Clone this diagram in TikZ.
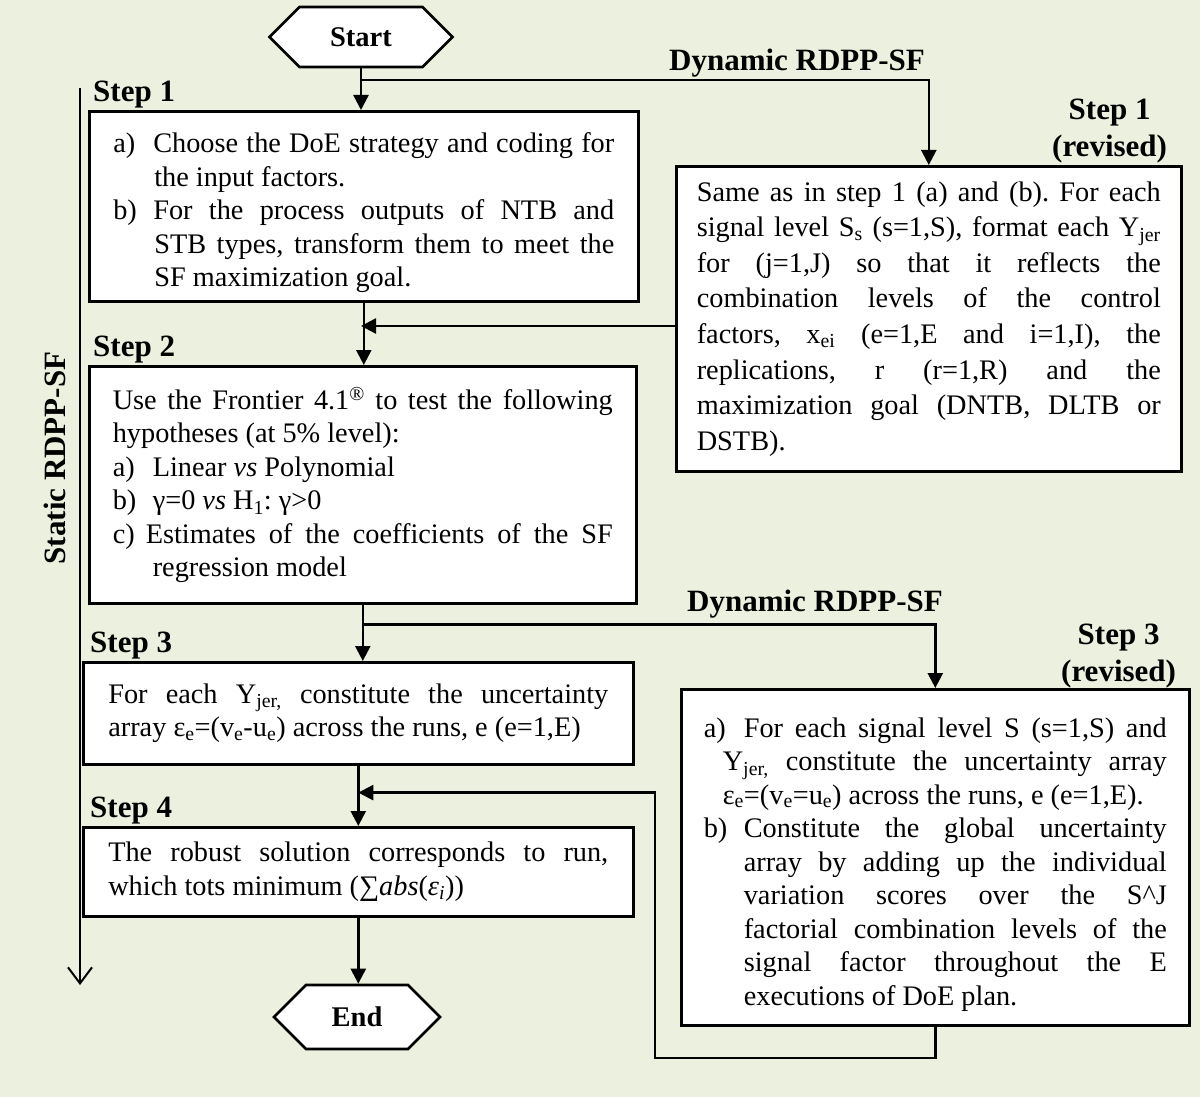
\documentclass[tikz,border=0pt]{standalone}
\usepackage{fontspec}
\setmainfont{Liberation Serif}
\usetikzlibrary{arrows.meta, shapes.symbols, positioning, calc}

\definecolor{bgolive}{RGB}{235,241,222}
\hyphenpenalty=10000
\exhyphenpenalty=10000
\frenchspacing

% list item: [label width]{hang}{label}{text}
\newcommand{\litem}[4][40pt]{\par\hangindent=#2\hangafter=1\noindent\makebox[#1][l]{#3}#4\par}
\newcommand{\bodyfont}{\fontsize{28.3}{33.5}\selectfont}
\newcommand{\lblfont}{\fontsize{31}{37}\selectfont\bfseries}
\newcommand{\termfont}{\fontsize{28.5}{33}\selectfont\bfseries}

\tikzset{
  flowbox/.style={draw, fill=white, line width=2.6pt, rectangle, anchor=north west,
    align=justify, inner sep=0pt, font=\bodyfont},
  terminal/.style={draw, fill=white, line width=2.6pt, shape=signal,
    signal to=east and west, inner sep=0pt, font=\termfont},
  steplbl/.style={font=\lblfont, inner sep=2pt},
  flow/.style={line width=2.4pt, -{Triangle[length=15pt,width=15pt]}},
}

\begin{document}
\begin{tikzpicture}[x=1pt, y=-1pt]
	% --- background and page size ---
	\fill[bgolive] (0,0) rectangle (1200,1097);
	\useasboundingbox (0,0) rectangle (1200,1097);
	
	% --- terminals ---
	\node[terminal, minimum width=183pt, minimum height=60pt] (start) at (361,37) {Start};
	\node[terminal, minimum width=166pt, minimum height=64pt] (end) at (357,1017) {End};
	
	% --- static steps (left column) ---
	\node[flowbox, minimum width=549pt, minimum height=190pt, text width=501pt] (s1) at (88,110) {%
		\litem{41pt}{a)}{Choose the DoE strategy and coding for the input factors.}
		\litem{41pt}{b)}{For the process outputs of NTB and\linebreak STB types, transform them to meet the\linebreak SF maximization goal.}};
	\node[flowbox, minimum width=547pt, minimum height=237pt, text width=500pt] (s2) at (88,365) {%
		Use the Frontier 4.1\textsuperscript{\textregistered} to test the following hypotheses (at 5\% level):
		\litem{40pt}{a)}{Linear \textit{vs} Polynomial}
		\litem{40pt}{b)}{γ=0 \textit{vs} H\textsubscript{1}: γ>0}
		\litem[33pt]{40pt}{c)}{Estimates of the coefficients of the SF\linebreak regression model}};
	\node[flowbox, minimum width=550pt, minimum height=102pt, text width=500pt] (s3) at (82,661) {%
		For each Y\textsubscript{jer,} constitute the uncertainty\linebreak array ε\textsubscript{e}=(v\textsubscript{e}-u\textsubscript{e}) across the runs, e (e=1,E)};
	\node[flowbox, minimum width=550pt, minimum height=89pt, text width=500pt] (s4) at (82,826) {%
		The robust solution corresponds to run, which tots minimum (∑\textit{abs}(\textit{ε}\textsubscript{\textit{i}}))};
	
	% --- revised steps (right column) ---
	\node[flowbox, font=\fontsize{28.3}{35.6}\selectfont, minimum width=505pt, minimum height=305pt, text width=464pt] (r1) at (675,165) {%
		Same as in step 1 (a) and (b). For each\linebreak signal level S\textsubscript{s} (s=1,S), format each Y\textsubscript{jer}\linebreak for (j=1,J) so that it reflects the\linebreak combination levels of the control\linebreak factors, x\textsubscript{ei} (e=1,E and i=1,I), the\linebreak replications, r (r=1,R) and the\linebreak maximization goal (DNTB, DLTB or\linebreak DSTB).};
	\node[flowbox, minimum width=508pt, minimum height=336pt, text width=463pt] (r3) at (680,688) {%
		\litem{19pt}{a)}{For each signal level S (s=1,S) and\linebreak Y\textsubscript{jer,} constitute the uncertainty array\linebreak ε\textsubscript{e}=(v\textsubscript{e}=u\textsubscript{e}) across the runs, e (e=1,E).}
		\litem{40pt}{b)}{Constitute the global uncertainty\linebreak array by adding up the individual\linebreak variation scores over the S\textasciicircum J\linebreak factorial combination levels of the\linebreak signal factor throughout the E\linebreak executions of DoE plan.}};
	
	% --- step labels ---
	\node[steplbl, anchor=south west] (l1) at ([xshift=3pt]s1.north west) {Step 1};
	\node[steplbl, anchor=south west] (l2) at ([xshift=3pt]s2.north west) {Step 2};
	\node[steplbl, anchor=south west] (l3) at ([xshift=6pt]s3.north west) {Step 3};
	\node[steplbl, anchor=south west] (l4) at ([xshift=6pt]s4.north west) {Step 4};
	\node[steplbl, align=center, anchor=south] (l1r) at ([xshift=-73pt]r1.north east) {Step 1\\(revised)};
	\node[steplbl, align=center, anchor=south] (l3r) at ([xshift=-72pt,yshift=-2pt]r3.north east) {Step 3\\(revised)};
	
	% --- main flow ---
	\draw[flow] (start.south) -- (start.south |- s1.north);
	\draw[flow] (s1.south) -- (s1.south |- s2.north);
	\draw[flow] (s2.south) -- (s2.south |- s3.north);
	\draw[flow] (s3.south) -- (s3.south |- s4.north);
	\draw[flow] (s4.south) -- (s4.south |- end.north);
	
	% --- dynamic branches ---
	\coordinate (b1) at ($(start.south)+(0,12)$);
	\draw[flow] (b1) -| (r1.north);
	\node[steplbl, anchor=south] (dyn1) at (797,79) {Dynamic RDPP-SF};
	\coordinate (j1) at (361,326);
	\draw[flow] (j1 -| r1.west) -- (j1);
	
	\coordinate (b2) at ($(s2.south)+(0,20)$);
	\draw[flow] (b2) -| (r3.north);
	\node[steplbl, anchor=south] (dyn2) at (815,620) {Dynamic RDPP-SF};
	\coordinate (j2) at ($(s3.south)+(0,27)$);
	\draw[flow] (r3.south) |- (655,1058) |- (j2);
	
	% --- static axis ---
	\coordinate (stTop) at (80,88);
	\coordinate (stBot) at (80,985);
	\draw[line width=2pt, -{Straight Barb[length=16pt,width=24pt]}] (stTop) -- (stBot);
	\node[steplbl, rotate=90] (static) at (55,458) {Static RDPP-SF};
\end{tikzpicture}
\end{document}
